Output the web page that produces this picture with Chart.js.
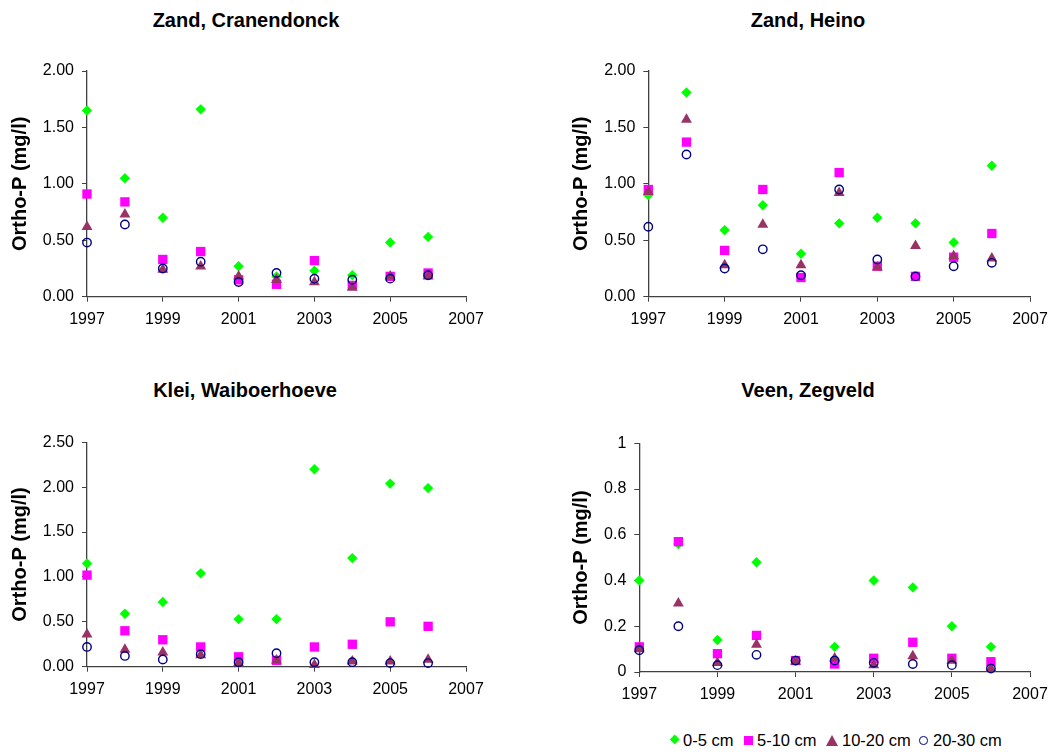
<!DOCTYPE html>
<html><head><meta charset="utf-8">
<script src="https://cdn.jsdelivr.net/npm/chart.js@4"></script>
<style>
body{margin:0;background:#fff;width:1056px;height:754px;position:relative;overflow:hidden;font-family:"Liberation Sans",Arial,sans-serif}
canvas{position:absolute}
.t{position:absolute;width:400px;font-weight:bold;font-size:20px;line-height:22px;text-align:center;white-space:nowrap;color:#000}
.lg{position:absolute;font-size:16.5px;line-height:18px;top:731px;white-space:nowrap;color:#000}
.mk{position:absolute;box-sizing:border-box}
</style></head><body>
<div class="t" style="left:46px;top:9px">Zand, Cranendonck</div>
<div class="t" style="left:608px;top:9px">Zand, Heino</div>
<div class="t" style="left:45px;top:379px">Klei, Waiboerhoeve</div>
<div class="t" style="left:608px;top:379px">Veen, Zegveld</div>
<canvas id="c1" width="500" height="290" style="left:0px;top:50px"></canvas>
<canvas id="c2" width="495" height="290" style="left:561px;top:50px"></canvas>
<canvas id="c3" width="500" height="290" style="left:0px;top:420px"></canvas>
<canvas id="c4" width="495" height="290" style="left:561px;top:420px"></canvas>
<div id="legend"></div>
<script>
// ---- data ----
const years = [1997, 1998, 1999, 2000, 2001, 2002, 2003, 2004, 2005, 2006];
const seriesNames = ['0-5 cm', '5-10 cm', '10-20 cm', '20-30 cm'];
const titles = ['Zand, Cranendonck', 'Zand, Heino', 'Klei, Waiboerhoeve', 'Veen, Zegveld'];
const yAxisTitle = 'Ortho-P (mg/l)';
const xTickValues = [1997, 1999, 2001, 2003, 2005, 2007];

const cranendonck_0_5  = [1.65, 1.05, 0.70, 1.66, 0.27, 0.18, 0.23, 0.19, 0.48, 0.53];
const cranendonck_5_10 = [0.91, 0.84, 0.33, 0.40, 0.15, 0.11, 0.32, 0.10, 0.18, 0.21];
const cranendonck_10_20= [0.62, 0.73, 0.24, 0.27, 0.18, 0.15, 0.13, 0.08, 0.18, 0.18];
const cranendonck_20_30= [0.48, 0.64, 0.25, 0.31, 0.13, 0.21, 0.16, 0.15, 0.16, 0.19];

const heino_0_5  = [0.90, 1.81, 0.59, 0.81, 0.38, 0.65, 0.70, 0.65, 0.48, 1.16];
const heino_5_10 = [0.95, 1.37, 0.41, 0.95, 0.17, 1.10, 0.27, 0.18, 0.35, 0.56];
const heino_10_20= [0.93, 1.57, 0.28, 0.64, 0.28, 0.92, 0.26, 0.45, 0.36, 0.34];
const heino_20_30= [0.62, 1.26, 0.25, 0.42, 0.19, 0.95, 0.33, 0.18, 0.27, 0.30];

const waiboerhoeve_0_5  = [1.15, 0.59, 0.72, 1.04, 0.53, 0.53, 2.20, 1.21, 2.04, 1.99];
const waiboerhoeve_5_10 = [1.02, 0.40, 0.30, 0.22, 0.11, 0.07, 0.22, 0.25, 0.50, 0.45];
const waiboerhoeve_10_20= [0.36, 0.19, 0.16, 0.13, 0.04, 0.07, 0.02, 0.06, 0.06, 0.08];
const waiboerhoeve_20_30= [0.22, 0.12, 0.08, 0.14, 0.05, 0.15, 0.05, 0.05, 0.04, 0.04];

const zegveld_0_5  = [0.40, 0.56, 0.14, 0.48, 0.05, 0.11, 0.40, 0.37, 0.20, 0.11];
const zegveld_5_10 = [0.11, 0.57, 0.08, 0.16, 0.05, 0.035, 0.06, 0.13, 0.06, 0.045];
const zegveld_10_20= [0.10, 0.30, 0.04, 0.12, 0.045, 0.06, 0.03, 0.07, 0.05, 0.015];
const zegveld_20_30= [0.095, 0.20, 0.03, 0.075, 0.05, 0.05, 0.04, 0.035, 0.03, 0.015];

const yTicks12 = ['0.00', '0.50', '1.00', '1.50', '2.00'];
const yTicks3  = ['0.00', '0.50', '1.00', '1.50', '2.00', '2.50'];
const yTicks4  = ['0', '0.2', '0.4', '0.6', '0.8', '1'];

// ---- styles ----
const FONT = '"Liberation Sans", Arial, sans-serif';
Chart.defaults.font.family = FONT;
Chart.defaults.color = '#000';
const AXIS = '#404040';
const styles = [
  {pointStyle: 'rectRot',  radius: 5.2, bg: '#00FF00', bc: '#00FF00', bw: 0, order: 3},
  {pointStyle: 'rect',     radius: 6.6, bg: '#FF00FF', bc: '#FF00FF', bw: 0, order: 2},
  {pointStyle: 'triangle', radius: 6.3, bg: '#993366', bc: '#993366', bw: 0, order: 1},
  {pointStyle: 'circle',   radius: 4.2, bg: 'rgba(0,0,0,0)', bc: '#000080', bw: 1.4, order: 0}
];

function makeChart(id, seriesList, yLabels, geom) {
  const yVals = yLabels.map(Number);
  const datasets = seriesList.map((vals, i) => ({
    label: seriesNames[i],
    data: years.map((y, j) => ({x: y, y: vals[j]})),
    pointStyle: styles[i].pointStyle,
    pointRadius: styles[i].radius,
    pointHoverRadius: styles[i].radius,
    backgroundColor: styles[i].bg,
    borderColor: styles[i].bc,
    borderWidth: styles[i].bw,
    showLine: false,
    clip: false,
    order: styles[i].order
  }));
  return new Chart(document.getElementById(id), {
    type: 'scatter',
    data: {datasets},
    options: {
      responsive: false,
      animation: false,
      events: [],
      layout: {padding: {left: 0, top: geom.top, right: geom.right, bottom: 0}},
      plugins: {legend: {display: false}, tooltip: {enabled: false}, title: {display: false}},
      scales: {
        x: {
          type: 'linear', min: xTickValues[0], max: xTickValues[xTickValues.length - 1],
          afterBuildTicks: s => { s.ticks = xTickValues.map(v => ({value: v})); },
          afterFit: s => { s.height = geom.xh; },
          ticks: {font: {size: 16}, padding: 8, maxRotation: 0, autoSkip: false,
                  callback: (v) => String(v)},
          grid: {display: true, drawOnChartArea: false, drawTicks: true, tickLength: 5, color: AXIS, lineWidth: 1},
          border: {display: true, color: AXIS, width: 1.3}
        },
        y: {
          type: 'linear', min: yVals[0], max: yVals[yVals.length - 1],
          afterBuildTicks: s => { s.ticks = yVals.map(v => ({value: v})); },
          afterFit: s => { s.width = geom.yw; },
          ticks: {font: {size: 16}, padding: 8, autoSkip: false,
                  callback: (v, i) => yLabels[i]},
          grid: {display: true, drawOnChartArea: false, drawTicks: true, tickLength: 5, color: AXIS, lineWidth: 1},
          border: {display: true, color: AXIS, width: 1.3},
          title: {display: true, text: yAxisTitle, font: {size: 20, weight: 'bold'}, padding: {top: 8.5, bottom: 0}}
        }
      }
    }
  });
}

makeChart('c1', [cranendonck_0_5, cranendonck_5_10, cranendonck_10_20, cranendonck_20_30], yTicks12,
  {top: 21, right: 34, xh: 43.3, yw: 87});
makeChart('c2', [heino_0_5, heino_5_10, heino_10_20, heino_20_30], yTicks12,
  {top: 21, right: 26, xh: 43.3, yw: 87.3});
makeChart('c3', [waiboerhoeve_0_5, waiboerhoeve_5_10, waiboerhoeve_10_20, waiboerhoeve_20_30], yTicks3,
  {top: 22.3, right: 34, xh: 43.3, yw: 87});
makeChart('c4', [zegveld_0_5, zegveld_5_10, zegveld_10_20, zegveld_20_30], yTicks4,
  {top: 23.3, right: 26, xh: 38, yw: 78.3});

// ---- legend (HTML) ----
const legendPos = [
  {mk: 'left:671.3px;top:736.3px;width:7.4px;height:7.4px;background:#00FF00;transform:rotate(45deg)', tx: 683},
  {mk: 'left:744px;top:735.5px;width:9.3px;height:9.3px;background:#FF00FF', tx: 757},
  {mk: 'left:826px;top:734.5px;width:0;height:0;border-left:6px solid transparent;border-right:6px solid transparent;border-bottom:11px solid #993366', tx: 842},
  {mk: 'left:919px;top:736px;width:8.5px;height:8.5px;border:1.4px solid #000080;border-radius:50%', tx: 933}
];
const lg = document.getElementById('legend');
seriesNames.forEach((n, i) => {
  const m = document.createElement('div');
  m.className = 'mk'; m.style.cssText = legendPos[i].mk;
  lg.appendChild(m);
  const t = document.createElement('div');
  t.className = 'lg'; t.style.left = legendPos[i].tx + 'px'; t.textContent = n;
  lg.appendChild(t);
});
</script>
</body></html>
